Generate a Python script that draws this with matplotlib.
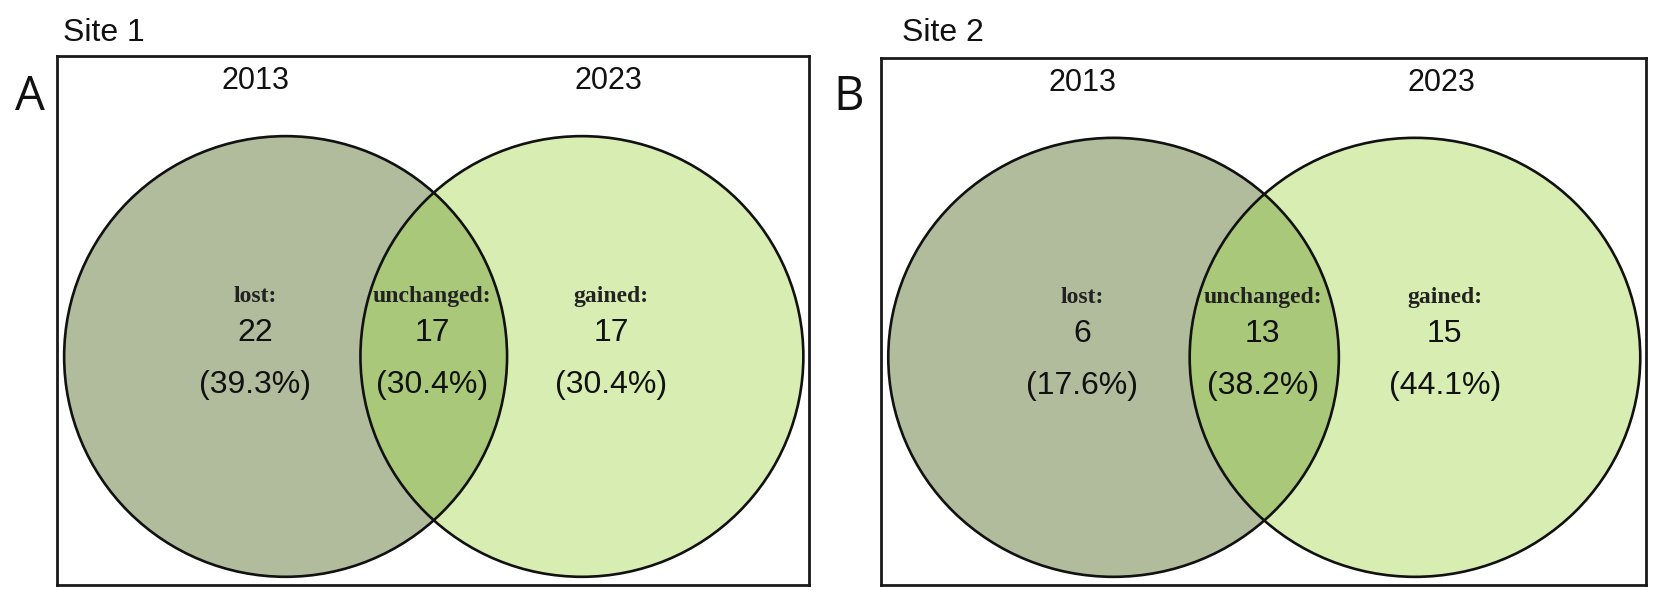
import matplotlib.pyplot as plt
from matplotlib.patches import Ellipse

# data
sites = ["Site 1", "Site 2"]
letters = ["A", "B"]
years = ["2013", "2023"]
regions = ["lost:", "unchanged:", "gained:"]
site1_counts = [22, 17, 17]
site2_counts = [6, 13, 15]

# colours: 2013 only, 2023 only, overlap
col_old = "#B0BC9C"
col_new = "#D7EDB1"
col_both = "#AAC87A"

W, H = 1654, 594
fig = plt.figure(figsize=(W / 100, H / 100), dpi=100)

# panel boxes in pixels (left, top, right, bottom)
boxes = [(57, 56, 809, 585), (881, 58, 1646, 585)]
title_x = [63, 902]
letter_x = [30, 849]

# venn layout inside each box (fractions, y from top)
cx = [0.304, 0.698]
cy = 0.568
ew, eh = 0.589, 0.833
label_x = [0.263, 0.499, 0.737]

for i, counts in enumerate([site1_counts, site2_counts]):
    l, t, r, b = boxes[i]
    ax = fig.add_axes([l / W, 1 - b / H, (r - l) / W, (b - t) / H])
    ax.set_xlim(0, 1)
    ax.set_ylim(1, 0)
    ax.set_xticks([])
    ax.set_yticks([])
    for s in ax.spines.values():
        s.set_linewidth(2.0)
        s.set_color("#1a1a1a")

    left = Ellipse((cx[0], cy), ew, eh, facecolor=col_old, edgecolor="none")
    right = Ellipse((cx[1], cy), ew, eh, facecolor=col_new, edgecolor="none")
    ax.add_patch(left)
    ax.add_patch(right)
    both = Ellipse((cx[1], cy), ew, eh, facecolor=col_both, edgecolor="none")
    ax.add_patch(both)
    both.set_clip_path(left)
    for x in cx:
        ax.add_patch(Ellipse((x, cy), ew, eh, facecolor="none",
                             edgecolor="#111111", linewidth=1.9))

    ax.text(0.264, 0.048, years[0], ha="center", va="center", fontsize=22,
            family="Liberation Sans", color="#111111")
    ax.text(0.733, 0.048, years[1], ha="center", va="center", fontsize=22,
            family="Liberation Sans", color="#111111")

    total = sum(counts)
    for j in range(3):
        ax.text(label_x[j], 0.455, regions[j], ha="center", va="center",
                fontsize=17, family="Liberation Serif", fontweight="bold",
                color="#222222")
        ax.text(label_x[j], 0.524, str(counts[j]), ha="center", va="center",
                fontsize=23, family="Liberation Sans", color="#111111")
        ax.text(label_x[j], 0.622, "(%.1f%%)" % (counts[j] / total * 100),
                ha="center", va="center", fontsize=23,
                family="Liberation Sans", color="#111111")

    fig.text(title_x[i] / W, 1 - 33 / H, sites[i], ha="left", va="center",
             fontsize=23, family="Liberation Sans", color="#111111")
    fig.text(letter_x[i] / W, 1 - 97 / H, letters[i], ha="center", va="center",
             fontsize=34, family="Open Sans", color="#111111")

fig.savefig("out.png", dpi=100)
